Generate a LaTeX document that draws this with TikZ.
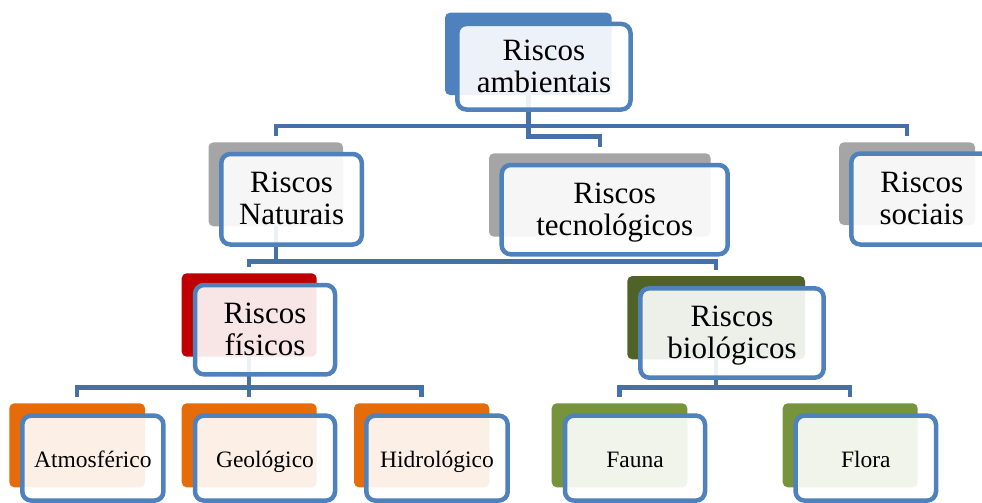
\documentclass[tikz,border=0pt]{standalone}
\usepackage{fontspec}
\setmainfont{Liberation Serif}
\usetikzlibrary{backgrounds}

\definecolor{boxblue}{HTML}{4F81BD}
\definecolor{linkblue}{HTML}{4571A6}
\definecolor{greyfill}{HTML}{A5A5A5}
\definecolor{redfill}{HTML}{C00000}
\definecolor{olivefill}{HTML}{4F6228}
\definecolor{orangefill}{HTML}{E46C0A}
\definecolor{greenfill}{HTML}{77933C}

% duas linhas com altura fixa
\newcommand{\twolines}[2]{\rule{0pt}{26pt}#1\\#2\rule[-7pt]{0pt}{7pt}}

\begin{document}
\begin{tikzpicture}[
    x=1pt, y=-1pt,
    back/.style={rectangle, rounded corners=5pt, inner sep=0pt, outer sep=0pt, anchor=north west},
    front/.style={rectangle, rounded corners=9pt, draw=boxblue, line width=4.5pt, fill=white, fill opacity=0.9, text opacity=1, inner sep=0pt, outer sep=0pt, anchor=north west, align=center, font=\fontsize{31}{32}\selectfont},
    leaf/.style={front, font=\fontsize{23.5}{26}\selectfont, text height=18pt, text depth=0pt},
    link/.style={draw=linkblue, line width=4.5pt, shorten >=6pt}
]
\useasboundingbox (0,0) rectangle (982,503);

% Caixas de fundo
\node (ambB) [back, fill=boxblue, minimum width=166.7pt, minimum height=82.3pt] at (445,12.7) {};
\node (natB) [back, fill=greyfill, minimum width=134.5pt, minimum height=84pt] at (208.5,142.3) {};
\node (tecB) [back, fill=greyfill, minimum width=221.7pt, minimum height=83.4pt] at (489,153.3) {};
\node (socB) [back, fill=greyfill, minimum width=136pt, minimum height=82.7pt] at (839,142.3) {};
\node (fisB) [back, fill=redfill, minimum width=135pt, minimum height=83.4pt] at (181.7,273.3) {};
\node (bioB) [back, fill=olivefill, minimum width=177.7pt, minimum height=83.3pt] at (627.3,276) {};
\node (atmB) [back, fill=orangefill, minimum width=135.7pt, minimum height=84pt] at (9.3,403.3) {};
\node (geoB) [back, fill=orangefill, minimum width=135pt, minimum height=84pt] at (181.7,403.3) {};
\node (hidB) [back, fill=orangefill, minimum width=135.3pt, minimum height=84pt] at (354,403.3) {};
\node (fauB) [back, fill=greenfill, minimum width=135.6pt, minimum height=84pt] at (551.7,403.3) {};
\node (floB) [back, fill=greenfill, minimum width=135pt, minimum height=84pt] at (782.7,403.3) {};

% Caixas de texto
\node (amb) [front, minimum width=173.2pt, minimum height=85.5pt] at (457.3,24) {\twolines{Riscos}{ambientais}};
\node (nat) [front, minimum width=140.5pt, minimum height=90.5pt] at (221.3,154) {\twolines{Riscos}{Naturais}};
\node (tec) [front, minimum width=226pt, minimum height=89.3pt] at (501.7,165) {\twolines{Riscos}{tecnológicos}};
\node (soc) [front, minimum width=141pt, minimum height=91pt] at (851.3,153.5) {\twolines{Riscos}{sociais}};
\node (fis) [front, minimum width=140pt, minimum height=89.4pt] at (195,285) {\twolines{Riscos}{físicos}};
\node (bio) [front, minimum width=183.4pt, minimum height=89.4pt] at (640.3,288.3) {\twolines{Riscos}{biológicos}};
\node (atm) [leaf, minimum width=141.1pt, minimum height=85pt] at (22.3,415.6) {Atmosférico};
\node (geo) [leaf, minimum width=140pt, minimum height=85pt] at (195,415.6) {Geológico};
\node (hid) [leaf, minimum width=141.4pt, minimum height=85pt] at (366.3,415.6) {Hidrológico};
\node (fau) [leaf, minimum width=140pt, minimum height=85pt] at (565,415.6) {Fauna};
\node (flo) [leaf, minimum width=140.4pt, minimum height=85pt] at (795.6,415.6) {Flora};

% Ligações
\begin{scope}[on background layer]
\draw [link] (ambB.south) -- ++(0,31) -| (natB.north);
\draw [link] (ambB.south) -- ++(0,31) -| (socB.north);
\draw [link] (ambB.south) -- ++(0,41.7) -| (tecB.north);
\draw [link] (natB.south) -- ++(0,35) -| (fisB.north);
\draw [link] (natB.south) -- ++(0,35) -| (bioB.north);
\draw [link] (fisB.south) -- ++(0,31) -| (atmB.north);
\draw [link] (fisB.south) -- ++(0,31) -| (geoB.north);
\draw [link] (fisB.south) -- ++(0,31) -| (hidB.north);
\draw [link] (bioB.south) -- ++(0,28) -| (fauB.north);
\draw [link] (bioB.south) -- ++(0,28) -| (floB.north);
\end{scope}

\end{tikzpicture}
\end{document}
